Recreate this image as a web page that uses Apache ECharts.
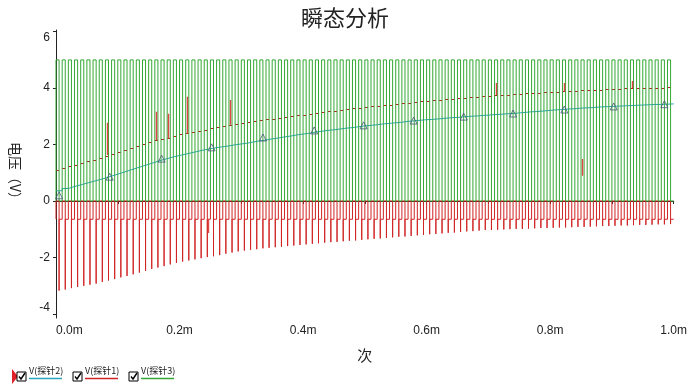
<!DOCTYPE html>
<html>
<head>
<meta charset="utf-8">
<script src="https://cdn.jsdelivr.net/npm/echarts@6/dist/echarts.min.js"></script>
<style>
html,body{margin:0;padding:0;background:#fff;}
#chart{width:690px;height:387px;}
</style>
</head>
<body>
<div id="chart"></div>
<script>
// ---- data (time in ms) ----
const cycleStart = [0,0.01,0.02,0.03,0.04,0.05,0.06,0.07,0.08,0.09,0.10,0.11,0.12,0.13,0.14,0.15,0.16,0.17,0.18,0.19,
0.20,0.21,0.22,0.23,0.24,0.25,0.26,0.27,0.28,0.29,0.30,0.31,0.32,0.33,0.34,0.35,0.36,0.37,0.38,0.39,
0.40,0.41,0.42,0.43,0.44,0.45,0.46,0.47,0.48,0.49,0.50,0.51,0.52,0.53,0.54,0.55,0.56,0.57,0.58,0.59,
0.60,0.61,0.62,0.63,0.64,0.65,0.66,0.67,0.68,0.69,0.70,0.71,0.72,0.73,0.74,0.75,0.76,0.77,0.78,0.79,
0.80,0.81,0.82,0.83,0.84,0.85,0.86,0.87,0.88,0.89,0.90,0.91,0.92,0.93,0.94,0.95,0.96,0.97,0.98,0.99];
const pulseHighMs = 0.005;
const endTime = 1.0;
const clockHigh = 5;
const clockLow = 0;
const redClamp = -0.65;

// V(探针1): level during the high half of each cycle
const redTop = [1.10,1.16,1.22,1.28,1.33,1.39,1.46,1.53,1.60,1.67,1.74,1.81,1.88,1.95,2.01,2.08,2.14,2.19,2.24,2.30,
2.35,2.40,2.44,2.48,2.52,2.56,2.60,2.64,2.68,2.72,2.76,2.79,2.82,2.85,2.88,2.91,2.94,2.97,3.00,3.03,
3.05,3.08,3.11,3.14,3.17,3.19,3.22,3.25,3.27,3.30,3.32,3.34,3.36,3.39,3.41,3.43,3.45,3.47,3.50,3.52,
3.54,3.56,3.57,3.59,3.61,3.63,3.65,3.66,3.68,3.70,3.71,3.73,3.74,3.76,3.77,3.78,3.80,3.81,3.83,3.84,
3.85,3.87,3.88,3.89,3.90,3.91,3.92,3.93,3.94,3.95,3.96,3.97,3.98,3.99,3.99,4.00,4.00,4.01,4.01,4.02];
// V(探针1): negative spike at each falling edge
const redSpike = [-3.18,-3.14,-3.09,-3.05,-3.01,-2.97,-2.93,-2.87,-2.82,-2.77,-2.71,-2.66,-2.60,-2.54,-2.48,-2.41,-2.36,-2.31,-2.25,-2.20,
-2.15,-2.11,-2.07,-2.03,-1.99,-1.96,-1.92,-1.87,-1.83,-1.79,-1.76,-1.73,-1.71,-1.68,-1.66,-1.64,-1.62,-1.60,-1.58,-1.56,
-1.54,-1.52,-1.50,-1.48,-1.46,-1.45,-1.43,-1.41,-1.40,-1.38,-1.36,-1.34,-1.33,-1.31,-1.29,-1.27,-1.26,-1.24,-1.22,-1.20,
-1.18,-1.17,-1.15,-1.13,-1.12,-1.10,-1.08,-1.07,-1.05,-1.03,-1.03,-1.02,-1.01,-1.00,-0.99,-0.99,-0.98,-0.97,-0.96,-0.96,
-0.95,-0.94,-0.94,-0.93,-0.92,-0.92,-0.91,-0.90,-0.89,-0.89,-0.88,-0.87,-0.87,-0.86,-0.85,-0.85,-0.84,-0.83,-0.83,-0.82];
// V(探针2): staircase level per cycle
const blueLevel = [0.36,0.44,0.51,0.57,0.63,0.69,0.75,0.81,0.88,0.95,1.02,1.09,1.16,1.23,1.30,1.37,1.44,1.50,1.56,1.61,
1.66,1.71,1.76,1.81,1.85,1.89,1.92,1.95,1.99,2.02,2.05,2.09,2.13,2.16,2.20,2.23,2.27,2.30,2.34,2.37,
2.40,2.44,2.47,2.50,2.52,2.55,2.58,2.60,2.63,2.66,2.68,2.70,2.73,2.75,2.77,2.79,2.82,2.84,2.86,2.88,
2.89,2.91,2.93,2.95,2.96,2.98,3.00,3.01,3.03,3.04,3.06,3.07,3.09,3.10,3.12,3.14,3.16,3.17,3.19,3.21,
3.23,3.24,3.26,3.27,3.29,3.30,3.31,3.33,3.34,3.35,3.36,3.37,3.38,3.39,3.40,3.41,3.42,3.42,3.43,3.44];
// V(探针2) markers
const markerT = [0.005,0.087,0.171,0.252,0.335,0.418,0.498,0.579,0.660,0.740,0.823,0.903,0.985];
const markerV = [0.20,0.86,1.50,1.90,2.25,2.50,2.68,2.85,2.99,3.10,3.24,3.35,3.43];
// V(探针1) isolated glitches
const glitchT    = [0.0825,0.1625,0.1825,0.2125,0.2825,0.7125,0.8225,0.9325,0.8525,0.247];
const glitchFrom = [1.63,2.16,2.22,2.40,2.70,3.76,3.88,4.00,1.49,-0.65];
const glitchTo   = [2.77,3.16,3.09,3.69,3.58,4.18,4.18,4.25,0.89,-1.14];

const yTicks = [-4,-2,0,2,4,6];
const legendNames = ['V(探针2)','V(探针1)','V(探针3)'];

// ---- colours ----
const cBlue = '#2aa6bd', cRed = '#d02424', cGreen = '#34a834';

// ---- build series data ----
const greenData = [];
const redLowData = [];
const redHighSegs = [];
const blueData = [];
cycleStart.forEach((s, k) => {
  const h = s + pulseHighMs;
  const next = k + 1 < cycleStart.length ? cycleStart[k + 1] : endTime;
  greenData.push([s, clockLow], [s, clockHigh], [h, clockHigh], [h, clockLow], [next, clockLow]);
  // below-zero part of V(探针1); its rise above 0 is hidden behind the clock edge
  redLowData.push([s, redClamp], [s, clockLow], [h, clockLow], [h, redSpike[k]], [h, redClamp], [next, redClamp]);
  redHighSegs.push({coords: [[s, redTop[k]], [h, redTop[k]]]});
  blueData.push([s, blueLevel[k]]);
});
blueData.push([endTime, blueLevel[blueLevel.length - 1]]);
const markerData = markerT.map((t, i) => [t, markerV[i]]);
const glitchData = glitchT.map((t, i) => ({coords: [[t, glitchFrom[i]], [t, glitchTo[i]]]}));

const chart = echarts.init(document.getElementById('chart'), null, {renderer: 'canvas'});

const fontLat = 'Arial, "Liberation Sans", sans-serif';
const fontCJK = '"Noto Sans CJK SC", sans-serif';

function checkbox(x, y) {
  return [
    {type: 'rect', shape: {x: x, y: y, width: 9, height: 9}, style: {fill: '#fff', stroke: '#000', lineWidth: 1}},
    {type: 'polyline', shape: {points: [[x + 2, y + 4.5], [x + 4, y + 7], [x + 8, y + 1]]}, style: {stroke: '#000', lineWidth: 1.4, fill: null}}
  ];
}
function legendItem(x, name, color) {
  return [
    ...checkbox(x, 372),
    {type: 'text', x: x + 12, y: 366, style: {text: name, font: '9px ' + fontCJK, fill: '#222'}},
    {type: 'line', shape: {x1: x + 12, y1: 378.5, x2: x + 45, y2: 378.5}, style: {stroke: color, lineWidth: 1.5}}
  ];
}

const option = {
  animation: false,
  backgroundColor: '#fff',
  title: {
    text: '瞬态分析',
    left: 'center',
    top: 2,
    textStyle: {fontFamily: fontCJK, fontSize: 22, fontWeight: 'normal', color: '#222'}
  },
  grid: {left: 54, right: 16, top: 30, bottom: 69},
  xAxis: {
    type: 'value',
    min: 0, max: 1.0, interval: 0.2,
    name: '次', nameLocation: 'middle', nameGap: 30,
    nameTextStyle: {fontFamily: fontCJK, fontSize: 15, color: '#222'},
    axisLine: {lineStyle: {color: '#222', width: 1}},
    axisTick: {length: 3, lineStyle: {color: '#222'}},
    minorTick: {show: true, splitNumber: 2, length: 3, lineStyle: {color: '#222'}},
    splitLine: {show: false},
    axisLabel: {
      fontFamily: fontLat, fontSize: 12, color: '#222', margin: 7,
      alignMinLabel: 'left',
      formatter: v => v.toFixed(1) + 'm'
    }
  },
  yAxis: {
    type: 'value',
    min: -4.15, max: 6.06,
    name: '电压（V）', nameLocation: 'middle', nameGap: 34, nameRotate: -90,
    nameTextStyle: {fontFamily: fontCJK, fontSize: 14, color: '#222'},
    axisLine: {show: true, lineStyle: {color: '#222', width: 1}},
    axisTick: {show: true, length: 3, customValues: yTicks, lineStyle: {color: '#222'}},
    splitLine: {show: false},
    axisLabel: {
      fontFamily: fontLat, fontSize: 12, color: '#222', margin: 6,
      customValues: yTicks,
      verticalAlignMinLabel: 'bottom',
      verticalAlignMaxLabel: 'top'
    }
  },
  graphic: [
    {type: 'polygon', shape: {points: [[12, 369], [12, 384], [18, 376.5]]}, style: {fill: '#e0202a'}},
    ...legendItem(17, legendNames[0], cBlue),
    ...legendItem(73, legendNames[1], cRed),
    ...legendItem(129, legendNames[2], cGreen)
  ],
  series: [
    {name: legendNames[0], type: 'line', data: blueData, step: 'end', showSymbol: false,
     lineStyle: {color: cBlue, width: 1}, z: 2},
    {name: legendNames[1], type: 'line', data: redLowData, showSymbol: false,
     lineStyle: {color: cRed, width: 1}, z: 3},
    {name: legendNames[1] + ' high', type: 'lines', coordinateSystem: 'cartesian2d', data: redHighSegs,
     lineStyle: {color: '#b81e1e', width: 1.2, opacity: 1}, z: 3},
    {name: legendNames[2], type: 'line', data: greenData, showSymbol: false,
     lineStyle: {color: cGreen, width: 1}, z: 4},
    {name: legendNames[1] + ' glitch', type: 'lines', coordinateSystem: 'cartesian2d', data: glitchData,
     lineStyle: {color: '#e04848', width: 1.4, opacity: 1}, z: 5},
    {name: legendNames[0] + ' mark', type: 'scatter', data: markerData, symbol: 'triangle', symbolSize: 7,
     itemStyle: {color: 'rgba(255,255,255,0)', borderColor: '#4a5878', borderWidth: 1}, z: 6}
  ]
};
chart.setOption(option);
</script>
</body>
</html>
